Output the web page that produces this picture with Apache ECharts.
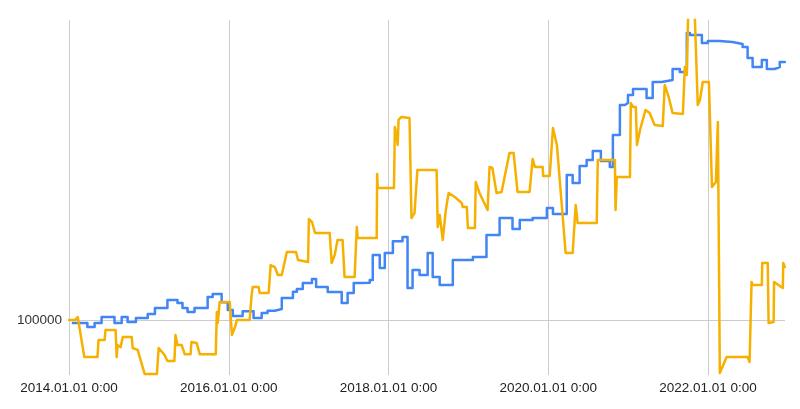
<!DOCTYPE html>
<html>
<head>
<meta charset="utf-8">
<script src="https://cdn.jsdelivr.net/npm/echarts@6/dist/echarts.min.js"></script>
<style>html,body{margin:0;padding:0;background:#fff}#c{width:800px;height:409px}</style>
</head>
<body>
<div id="c"></div>
<script>
const blueDates = ['2014-01-14','2014-03-26','2014-04-28','2014-05-30','2014-07-28','2014-08-30','2014-09-26','2014-11-03','2014-12-27','2015-01-29','2015-03-27','2015-05-12','2015-06-04','2015-06-27','2015-07-29','2015-09-27','2015-10-20','2015-11-30','2015-12-28','2016-01-20','2016-03-05','2016-04-24','2016-05-31','2016-06-27','2016-07-30','2016-08-31','2016-10-21','2016-11-08','2016-12-05','2017-01-16','2017-02-04','2017-03-29','2017-06-01','2017-06-28','2017-07-26','2017-08-23','2017-10-07','2017-10-21','2017-11-22','2017-12-15','2018-01-21','2018-03-06','2018-03-29','2018-04-21','2018-05-23','2018-06-29','2018-07-22','2018-08-23','2018-10-22','2019-01-22','2019-03-25','2019-05-24','2019-07-22','2019-08-24','2019-10-22','2019-12-26','2020-01-23','2020-03-26','2020-04-22','2020-05-24','2020-06-25','2020-07-23','2020-08-29','2020-10-09','2020-10-23','2020-11-24','2020-12-17','2020-12-31','2021-01-23','2021-03-26','2021-04-23','2021-06-03','2021-07-23','2021-08-25','2021-09-26','2021-10-10','2021-12-04','2021-12-31','2022-02-23','2022-04-23','2022-05-02','2022-06-08','2022-07-01','2022-07-24','2022-09-04','2022-09-27','2022-11-02','2022-11-25','2022-12-18'];
const blueValues = [98400,96300,98400,101600,98400,101600,98900,101100,103300,106600,111300,109500,106600,104400,106600,113100,115000,110000,105500,102200,104800,101100,103800,105100,106100,112500,116400,118100,121900,124600,119300,116200,109500,115600,121900,122100,123900,141600,132100,143200,152500,156000,118700,130700,127300,143200,125900,120600,137900,140100,157700,172700,162800,170800,172700,182200,176400,217400,208200,228200,235600,247300,234400,227000,269300,316200,319600,333600,344500,328300,357700,361500,383500,377400,465100,460100,440800,445600,443000,440800,438500,431500,406700,387600,402400,383500,387600,398100,400300];

const orangeDates = ['2014-01-01','2014-01-28','2014-02-10','2014-03-12','2014-05-11','2014-05-16','2014-06-13','2014-06-17','2014-08-02','2014-08-07','2014-08-11','2014-08-25','2014-09-04','2014-10-15','2014-10-19','2014-11-11','2014-11-20','2014-12-13','2015-02-07','2015-02-15','2015-03-14','2015-03-27','2015-04-28','2015-05-03','2015-05-12','2015-05-31','2015-06-14','2015-07-11','2015-07-15','2015-08-08','2015-08-22','2015-11-03','2015-11-08','2015-11-12','2015-11-21','2016-01-06','2016-01-16','2016-01-30','2016-02-08','2016-04-06','2016-04-15','2016-04-20','2016-05-17','2016-05-22','2016-07-02','2016-07-11','2016-07-30','2016-08-13','2016-08-31','2016-09-23','2016-11-04','2016-11-13','2016-12-29','2017-01-02','2017-01-16','2017-01-30','2017-04-07','2017-04-16','2017-04-30','2017-05-13','2017-06-05','2017-06-14','2017-07-30','2017-08-09','2017-08-13','2017-11-08','2017-11-10','2017-11-13','2018-01-26','2018-01-30','2018-02-08','2018-02-12','2018-02-16','2018-03-01','2018-04-07','2018-04-16','2018-04-30','2018-05-13','2018-08-09','2018-08-14','2018-08-23','2018-09-06','2018-09-20','2018-10-03','2018-10-31','2018-12-02','2018-12-06','2018-12-25','2018-12-30','2019-01-31','2019-02-04','2019-02-21','2019-03-30','2019-04-08','2019-04-21','2019-05-10','2019-06-02','2019-07-08','2019-07-27','2019-08-14','2019-10-08','2019-10-22','2019-11-01','2019-12-07','2019-12-09','2020-01-08','2020-01-23','2020-02-10','2020-03-21','2020-04-22','2020-05-06','2020-05-15','2020-08-10','2020-08-15','2020-11-01','2020-11-04','2020-11-10','2021-01-09','2021-01-13','2021-01-23','2021-02-05','2021-02-10','2021-02-24','2021-03-21','2021-04-09','2021-05-02','2021-06-08','2021-06-17','2021-06-26','2021-07-05','2021-07-23','2021-09-08','2021-09-17','2021-09-26','2021-10-05','2021-10-28','2021-11-15','2021-11-25','2021-12-08','2022-01-05','2022-01-19','2022-01-28','2022-02-06','2022-02-15','2022-02-24','2022-03-04','2022-03-27','2022-07-01','2022-07-10','2022-07-19','2022-07-24','2022-09-04','2022-09-06','2022-10-01','2022-10-05','2022-10-28','2022-10-30','2022-12-09','2022-12-11','2022-12-18'];
const orangeValues = [100000,100000,101600,82000,82000,89900,89900,94800,94800,82000,87500,86500,91300,91300,86100,85200,84300,74900,74900,86100,82900,80300,80300,92300,87500,87500,83300,83300,88900,88400,83300,83300,104400,98400,110100,110100,92300,96300,100000,100000,114300,119300,119300,115600,115600,134200,132800,127300,127300,143900,143900,137900,136400,171700,169000,159400,159400,135700,141600,153500,153500,125900,125900,164600,155100,155100,218600,202800,202800,281100,266500,255300,291900,296600,295000,172700,177400,223300,223300,164600,175500,153500,180200,197400,193200,187100,183200,183200,163700,163700,209300,197400,180200,227000,225700,197400,198500,244600,244600,198500,198500,236900,227000,227000,216300,216300,279600,255300,143200,143200,185100,168100,168100,235600,235600,180200,215100,215100,319600,312900,312900,255300,276600,307900,303000,284100,282600,352000,350100,330100,303000,301400,387600,371400,600000,600000,316200,324800,357700,357700,203800,202800,209300,288700,75300,75300,82000,82000,79900,122600,120600,120600,135700,135700,98400,98900,122600,118700,135700,132800];

const xStart = '2014-01-01';
const xEnd = '2022-12-19';
const yMin = 74500;
const yMax = 498500;

const DAY = 86400000;
const toPairs = (dates, vals) => dates.map((d, i) => [Date.parse(d), vals[i]]);

const font = "'Liberation Sans', Arial, sans-serif";
const chart = echarts.init(document.getElementById('c'), null, {renderer: 'canvas'});
chart.setOption({
  animation: false,
  backgroundColor: '#ffffff',
  grid: {left: 69, right: 15, top: 20, bottom: 34, containLabel: false, outerBoundsMode: 'none'},
  xAxis: {
    type: 'value',
    min: Date.parse(xStart),
    max: Date.parse(xEnd),
    interval: 730.5 * DAY,
    axisLine: {show: false},
    axisTick: {show: false},
    splitLine: {show: true, showMinLine: true, showMaxLine: false, lineStyle: {color: '#cccccc', width: 1}},
    axisLabel: {
      showMaxLabel: false,
      margin: 6,
      color: '#222222',
      fontSize: 13.5,
      fontFamily: font,
      formatter: function (v) {
        const y = new Date(v + DAY / 2).getUTCFullYear();
        return y + '.01.01 0:00';
      }
    }
  },
  yAxis: {
    type: 'log',
    logBase: 10,
    min: yMin,
    max: yMax,
    axisLine: {show: false},
    axisTick: {show: false},
    splitLine: {show: true, showMinLine: false, showMaxLine: false, lineStyle: {color: '#cccccc', width: 1}},
    axisLabel: {
      showMinLabel: false,
      showMaxLabel: false,
      margin: 7,
      color: '#333333',
      fontSize: 13.5,
      fontFamily: font,
      formatter: function (v) { return String(Math.round(v)); }
    }
  },
  series: [
    {
      name: 'A', type: 'line', step: 'end', symbol: 'none', showSymbol: false, clip: true,
      data: toPairs(blueDates, blueValues),
      lineStyle: {color: '#4285F4', width: 2.5, join: 'round'},
      itemStyle: {color: '#4285F4'}
    },
    {
      name: 'B', type: 'line', symbol: 'none', showSymbol: false, clip: true,
      data: toPairs(orangeDates, orangeValues),
      lineStyle: {color: '#F6B000', width: 2.5, join: 'round', cap: 'round'},
      itemStyle: {color: '#F6B000'}
    }
  ]
});
</script>
</body>
</html>
